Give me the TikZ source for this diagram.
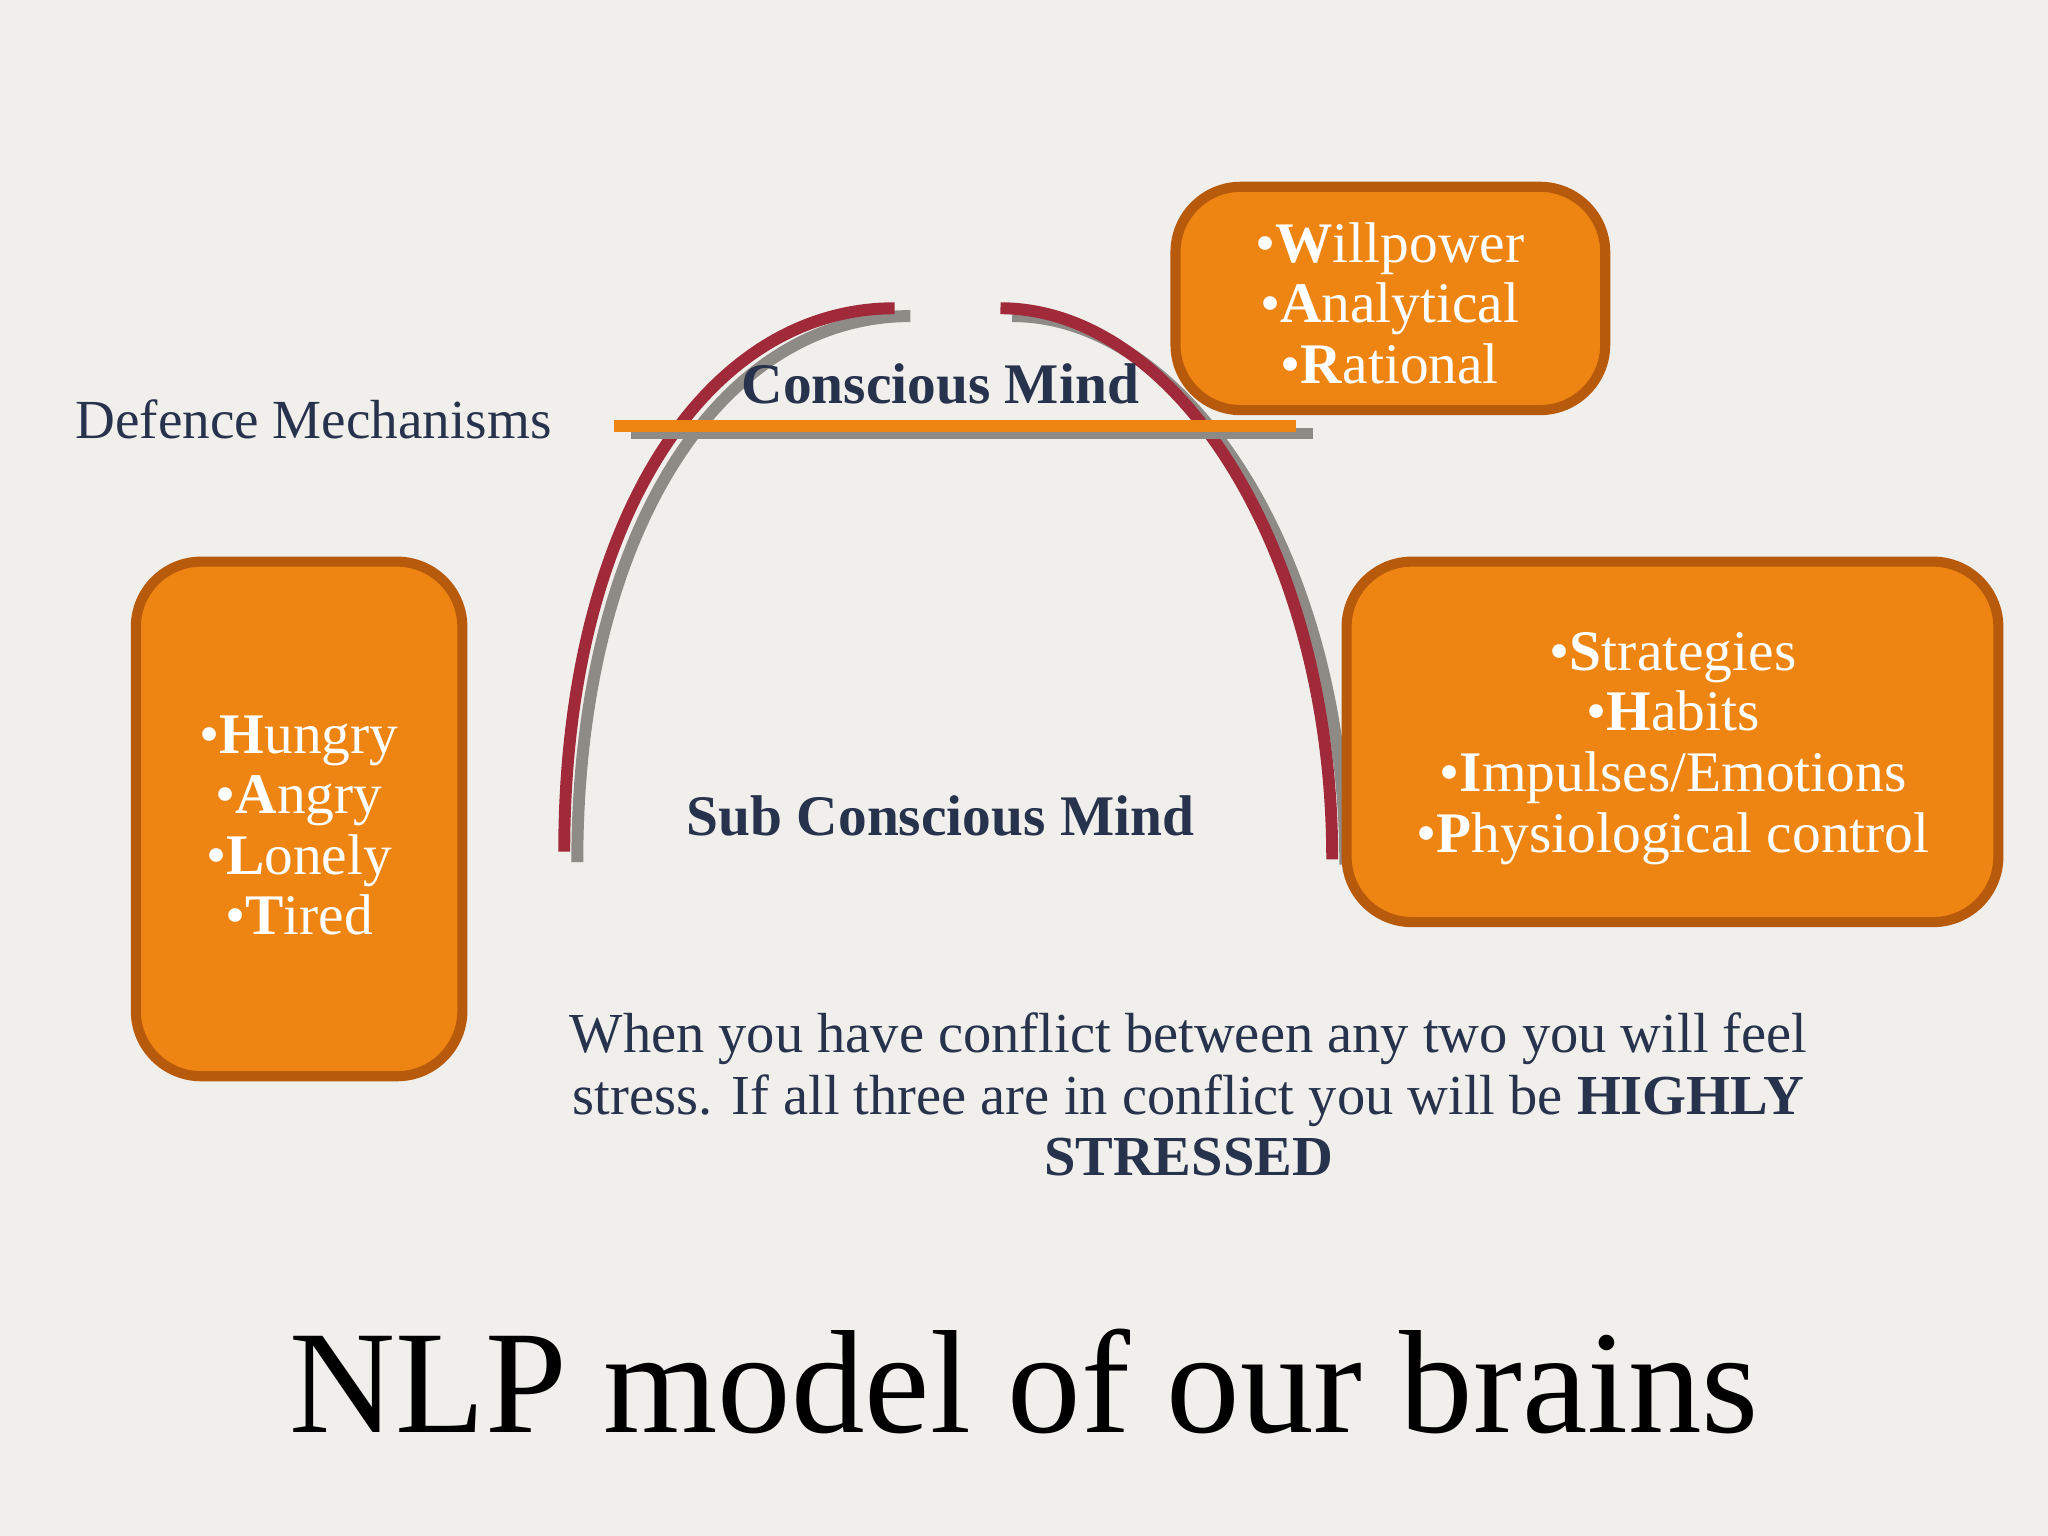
\documentclass[tikz,border=0pt]{standalone}
\usepackage{fontspec}
\setmainfont{Liberation Serif}
\definecolor{bg}{HTML}{F1EFEB}
\definecolor{org}{HTML}{EE8412}
\definecolor{orgd}{HTML}{B85A0C}
\definecolor{navy}{HTML}{27324D}
\definecolor{arcred}{HTML}{A02A3A}
\definecolor{shadow}{HTML}{8E8A86}
\begin{document}
\begin{tikzpicture}[x=0.01cm,y=-0.01cm,
  box/.style={draw=orgd,line width=2.2pt,fill=org,rounded corners=0.5cm},
  btxt/.style={text=white,align=center,font=\fontsize{12.5}{13.2}\selectfont},
  arc/.style={line width=2.6pt,draw=arcred},
  sh/.style={line width=2.6pt,draw=shadow}]
\fill[bg] (0,0) rectangle (1568,1176);
\useasboundingbox (0,0) rectangle (1568,1176);
% arcs
\coordinate (la) at (432,652); \coordinate (lb) at (685,236);
\coordinate (ra) at (766,236); \coordinate (rb) at (1020,658);
\draw[sh] (442,660) .. controls (442,410) and (550,242) .. (697,242);
\draw[sh] (775,242) .. controls (910,242) and (1030,430) .. (1030,662);
\draw[arc] (la) .. controls (432,400) and (540,236) .. (lb);
\draw[arc] (ra) .. controls (900,236) and (1020,420) .. (rb);
% line
\coordinate (s1) at (483,332); \coordinate (s2) at (1005,332);
\coordinate (o1) at (470,326); \coordinate (o2) at (992,326);
\draw[shadow,line width=2.5pt] (s1) -- (s2);
\draw[org,line width=2.5pt] (o1) -- (o2);
% boxes
\draw[box] (900,143) rectangle (1229,314);
\node[btxt] (t1) at (1064,232) {•\textbf{W}illpower\\•\textbf{A}nalytical\\•\textbf{R}ational};
\draw[box] (104,430) rectangle (354,824);
\node[btxt] (t2) at (229,632) {•\textbf{H}ungry\\•\textbf{A}ngry\\•\textbf{L}onely\\•\textbf{T}ired};
\draw[box] (1031,430) rectangle (1530,706);
\node[btxt] (t3) at (1281,573) {•\textbf{S}trategies\\•\textbf{H}abits\\•\textbf{I}mpulses/Emotions\\•\textbf{P}hysiological control};
% labels
\node[text=navy,font=\fontsize{12.5}{15}\selectfont\bfseries] (cm) at (720,294) {Conscious Mind};
\node[text=navy,font=\fontsize{12.5}{15}\selectfont\bfseries] (scm) at (720,625) {Sub Conscious Mind};
\node[text=navy,font=\fontsize{12}{15}\selectfont] (dm) at (240,321) {Defence Mechanisms};
\node[text=navy,align=center,font=\fontsize{12.3}{13.4}\selectfont] (note) at (910,838) {When you have conflict between any two you will feel\\stress. If all three are in conflict you will be \textbf{HIGHLY}\\\textbf{STRESSED}};
\node[font=\fontsize{32}{36}\selectfont] (title) at (784,1058) {NLP model of our brains};
\end{tikzpicture}
\end{document}
